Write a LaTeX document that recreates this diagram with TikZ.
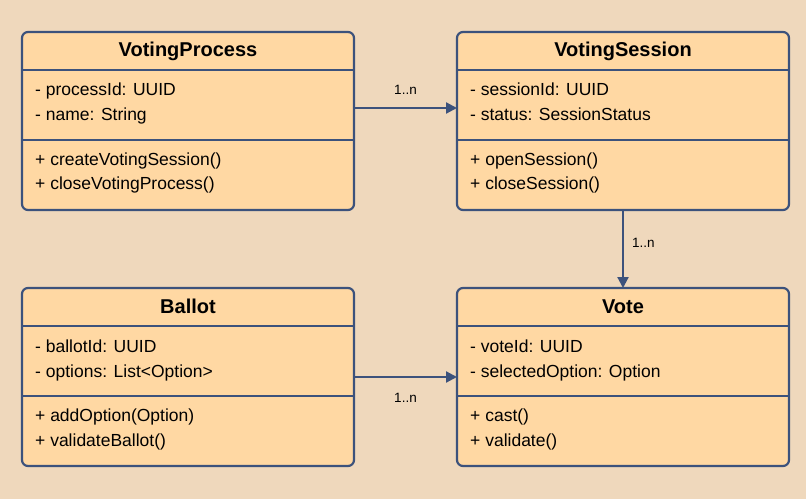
\documentclass[tikz,border=0pt]{standalone}
\usepackage{fontspec}
\setmainfont{Liberation Sans}
\usetikzlibrary{positioning,arrows.meta}
\definecolor{linecol}{RGB}{60,82,124}
\definecolor{boxcol}{RGB}{255,216,163}
\definecolor{bgcol}{RGB}{239,216,188}

\begin{document}
\begin{tikzpicture}
	\tikzstyle{classbox} = [rectangle, draw=linecol, fill=boxcol, line width=2.2pt, rounded corners=6pt, outer sep=0pt, minimum width=332pt, minimum height=178pt]
	\tikzstyle{classname} = [font=\fontsize{20}{24}\selectfont\bfseries, anchor=base, inner sep=0pt]
	\tikzstyle{member} = [font=\fontsize{17.5}{21}\selectfont, anchor=base west, inner sep=0pt]
	\tikzstyle{sep} = [draw=linecol, line width=2.2pt]
	\tikzstyle{assoc} = [draw=linecol, line width=2.2pt, -{Triangle[length=11pt,width=11pt]}]
	\tikzstyle{mult} = [font=\fontsize{13.5}{16}\selectfont, inner sep=0pt]
	
	\fill[bgcol] (0,0) rectangle (806pt,499pt);
	\useasboundingbox (0,0) rectangle (806pt,499pt);
	
	\node[classbox] (VP) at (188pt, 378pt) {};
	\node[classbox, right=103pt of VP] (VS) {};
	\node[classbox, below=78pt of VP] (B) {};
	\node[classbox, right=103pt of B] (V) {};
	
	\foreach \c in {VP,VS,B,V} {
		\draw[sep] ([yshift=-38pt]\c.north west) -- ([yshift=-38pt]\c.north east);
		\draw[sep] ([yshift=-108pt]\c.north west) -- ([yshift=-108pt]\c.north east);
	}
	
	\node[classname] (VPt) at ([yshift=-25pt]VP.north) {VotingProcess};
	\node[member] (VPa1) at ([shift={(13pt,-64pt)}]VP.north west) {- processId: UUID};
	\node[member] (VPa2) at ([shift={(13pt,-89pt)}]VP.north west) {- name: String};
	\node[member] (VPm1) at ([shift={(13pt,-133pt)}]VP.north west) {+ createVotingSession()};
	\node[member] (VPm2) at ([shift={(13pt,-158pt)}]VP.north west) {+ closeVotingProcess()};
	
	\node[classname] (VSt) at ([yshift=-25pt]VS.north) {VotingSession};
	\node[member] (VSa1) at ([shift={(13pt,-64pt)}]VS.north west) {- sessionId: UUID};
	\node[member] (VSa2) at ([shift={(13pt,-89pt)}]VS.north west) {- status: SessionStatus};
	\node[member] (VSm1) at ([shift={(13pt,-133pt)}]VS.north west) {+ openSession()};
	\node[member] (VSm2) at ([shift={(13pt,-158pt)}]VS.north west) {+ closeSession()};
	
	\node[classname] (Bt) at ([yshift=-25pt]B.north) {Ballot};
	\node[member] (Ba1) at ([shift={(13pt,-64pt)}]B.north west) {- ballotId: UUID};
	\node[member] (Ba2) at ([shift={(13pt,-89pt)}]B.north west) {- options: List<Option>};
	\node[member] (Bm1) at ([shift={(13pt,-133pt)}]B.north west) {+ addOption(Option)};
	\node[member] (Bm2) at ([shift={(13pt,-158pt)}]B.north west) {+ validateBallot()};
	
	\node[classname] (Vt) at ([yshift=-25pt]V.north) {Vote};
	\node[member] (Va1) at ([shift={(13pt,-64pt)}]V.north west) {- voteId: UUID};
	\node[member] (Va2) at ([shift={(13pt,-89pt)}]V.north west) {- selectedOption: Option};
	\node[member] (Vm1) at ([shift={(13pt,-133pt)}]V.north west) {+ cast()};
	\node[member] (Vm2) at ([shift={(13pt,-158pt)}]V.north west) {+ validate()};
	
	\draw[assoc] ([yshift=13pt]VP.east) -- node[mult, above=12pt] {1..n} ([yshift=13pt]VS.west);
	\draw[assoc] (VS.south) -- node[mult, right=8pt, pos=0.42] {1..n} (V.north);
	\draw[assoc] (B.east) -- node[mult, below=15pt] {1..n} (V.west);
	
\end{tikzpicture}
\end{document}
